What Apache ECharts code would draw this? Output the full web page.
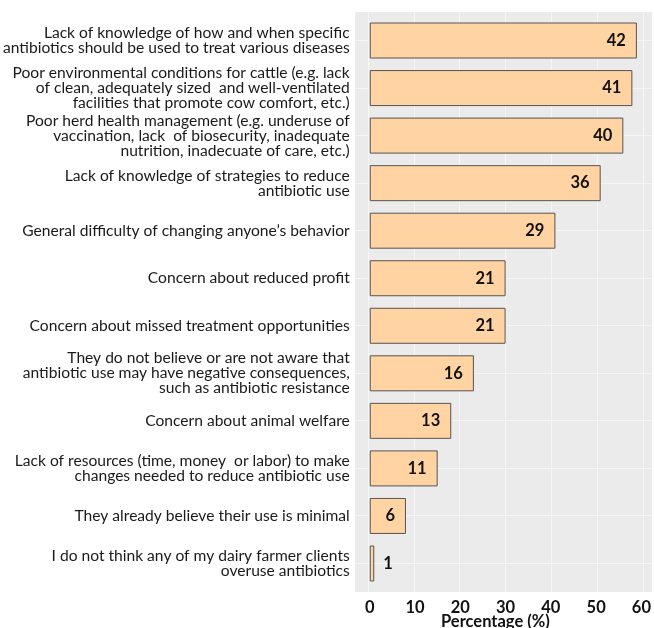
<!DOCTYPE html>
<html>
<head>
<meta charset="utf-8">
<script src="https://cdn.jsdelivr.net/npm/echarts@6/dist/echarts.min.js"></script>
<style>
html,body{margin:0;padding:0;background:#fff;}
#chart{width:654px;height:628px;}
</style>
</head>
<body>
<div id="chart"></div>
<script>
// Reasons (top to bottom)
var categories = [
  "Lack of knowledge of how and when specific\nantibiotics should be used to treat various diseases",
  "Poor environmental conditions for cattle (e.g. lack\nof clean, adequately sized  and well-ventilated\nfacilities that promote cow comfort, etc.)",
  "Poor herd health management (e.g. underuse of\nvaccination, lack  of biosecurity, inadequate\nnutrition, inadecuate of care, etc.)",
  "Lack of knowledge of strategies to reduce\nantibiotic use",
  "General difficulty of changing anyone\u2019s behavior",
  "Concern about reduced profit",
  "Concern about missed treatment opportunities",
  "They do not believe or are not aware that\nantibiotic use may have negative consequences,\nsuch as antibiotic resistance",
  "Concern about animal welfare",
  "Lack of resources (time, money  or labor) to make\nchanges needed to reduce antibiotic use",
  "They already believe their use is minimal",
  "I do not think any of my dairy farmer clients\noveruse antibiotics"
];
// bar lengths as read on the drawn axis
var barValues = [59, 58, 56, 51, 41, 30, 30, 23, 18, 15, 8, 1];
// printed percentage labels
var pctLabels = [42, 41, 40, 36, 29, 21, 21, 16, 13, 11, 6, 1];
var xTicks = [0, 10, 20, 30, 40, 50, 60];

var FONT = 'Lato';
var bg = '#EBEBEB';
var gridLine = '#F6F6F6';

var barData = barValues.map(function (v, i) {
  var item = { value: v };
  if (v < 3) {
    item.label = { position: 'right', distance: 9 };
  }
  return item;
});

var chart = echarts.init(document.getElementById('chart'), null, { renderer: 'canvas' });
var option = {
  backgroundColor: '#ffffff',
  animation: false,
  title: {
    text: 'Percentage (%)',
    left: 441, top: 613, padding: 0,
    textStyle: { fontFamily: FONT, fontSize: 16.5, fontWeight: 'bold', color: '#111' }
  },
  grid: [
    // 0: bars
    { left: 368, width: 275, top: 16.75, height: 570.5, containLabel: false, z: 2 },
    // 1: vertical grid lines (full panel height)
    { left: 368, width: 275, top: 12, height: 580, z: 1 },
    // 2: horizontal grid lines (category centres)
    { left: 355, width: 297, top: 40.5, height: 522.5, z: 1 },
    // 3: panel background
    { left: 355, width: 297, top: 12, height: 580, show: true, backgroundColor: bg, borderWidth: 0, z: 0 }
  ],
  xAxis: [
    {
      gridIndex: 0, type: 'value', min: xTicks[0], max: xTicks[xTicks.length - 1], interval: 10,
      axisLine: { show: false }, axisTick: { show: false }, splitLine: { show: false },
      axisLabel: { margin: 12, fontFamily: FONT, fontSize: 16.5, fontWeight: 'bold', color: '#111' }
    },
    {
      gridIndex: 1, type: 'value', min: xTicks[0], max: xTicks[xTicks.length - 1], interval: 10, z: 1,
      axisLine: { show: false }, axisTick: { show: false }, axisLabel: { show: false },
      splitLine: { show: true, lineStyle: { color: gridLine, width: 1 } }
    },
    {
      gridIndex: 2, type: 'value', min: 0, max: 1, show: false
    },
    {
      gridIndex: 3, type: 'value', min: 0, max: 1, show: false
    }
  ],
  yAxis: [
    {
      gridIndex: 0, type: 'category', data: categories, inverse: true,
      axisLine: { show: false }, axisTick: { show: false }, splitLine: { show: false },
      axisLabel: {
        interval: 0, margin: 20, fontFamily: FONT, fontSize: 15.6, lineHeight: 15, color: '#1a1a1a', align: 'right'
      }
    },
    {
      gridIndex: 1, type: 'category', data: categories, inverse: true, show: false
    },
    {
      gridIndex: 2, type: 'category', data: categories, inverse: true, boundaryGap: false, z: 1,
      axisLine: { show: false }, axisTick: { show: false }, axisLabel: { show: false },
      splitLine: { show: true, interval: 0, lineStyle: { color: gridLine, width: 1 } }
    },
    {
      gridIndex: 3, type: 'category', data: categories, show: false
    }
  ],
  series: [
    {
      type: 'bar', xAxisIndex: 0, yAxisIndex: 0, z: 3,
      data: barData,
      barWidth: 36,
      itemStyle: { color: '#FFD3A2', borderColor: '#555555', borderWidth: 1 },
      label: {
        show: true, position: 'insideRight', distance: 11,
        fontFamily: FONT, fontSize: 16.5, fontWeight: 'bold', color: '#111',
        formatter: function (p) { return pctLabels[p.dataIndex]; }
      }
    }
  ]
};
chart.setOption(option);
</script>
</body>
</html>
